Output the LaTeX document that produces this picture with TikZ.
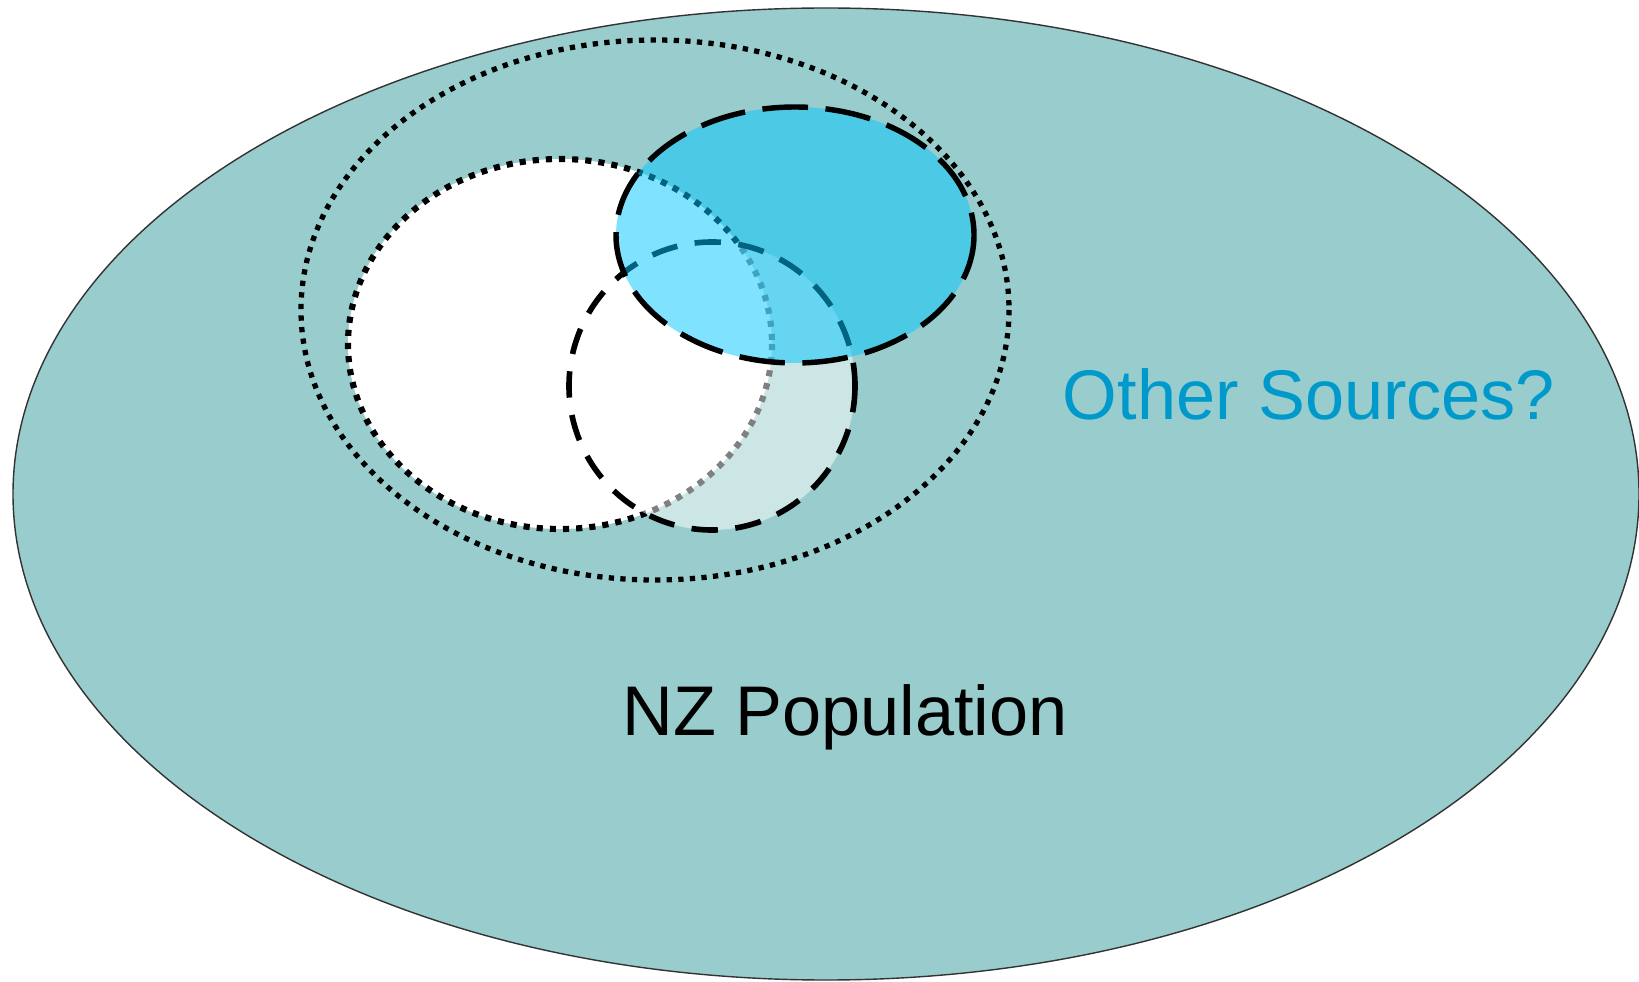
\documentclass[tikz,border=0pt]{standalone}
\usepackage{fontspec}
\setmainfont{Liberation Sans}
\definecolor{popteal}{RGB}{153,204,204}
\definecolor{srcblue}{RGB}{0,199,255}
\definecolor{labelblue}{RGB}{0,153,204}
\tikzset{
  population/.style={
    fill=popteal, draw=black!80, line width=0.8pt
  },
  outer dots/.style={
    draw=black, line width=3pt, dash pattern=on 3pt off 3.6pt
  },
  inner dots/.style={
    draw=black, line width=3.5pt, dash pattern=on 3.5pt off 4pt
  },
  long dashes/.style={
    draw=black, line width=3.1pt, dash pattern=on 26pt off 10pt
  },
  short dashes/.style={
    draw=black, line width=3.2pt, dash pattern=on 15pt off 10pt
  },
  big label/.style={
    font=\fontsize{40}{48}\selectfont, inner sep=0pt, anchor=base
  }
}

\begin{document}
\begin{tikzpicture}[x=0.02cm, y=-0.02cm]
  \useasboundingbox (0,0) rectangle (1639,982);

% ------------------------------------------------
% population and the sets inside it
% ------------------------------------------------
  \draw[population] (826,494) ellipse [x radius=813, y radius=486];
  \draw[outer dots] (655,310) ellipse [x radius=354, y radius=270];
  \draw[inner dots, fill=white] (560,344) ellipse [x radius=212, y radius=185];
  \draw[short dashes, fill=white, fill opacity=0.5] (712,386) ellipse [x radius=143, y radius=144];
  \draw[long dashes, fill=srcblue, fill opacity=0.5] (795,235) ellipse [x radius=179, y radius=128];

% ------------------------------------------------
% labels
% ------------------------------------------------
  \node[big label, text=labelblue] (other) at (1309,420) {Other Sources?};
  \node[big label] (nzpop) at (845,735) {NZ Population};
\end{tikzpicture}
\end{document}
